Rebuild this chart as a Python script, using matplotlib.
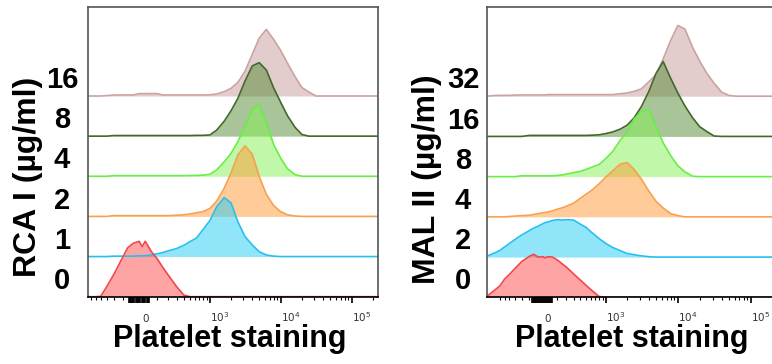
import matplotlib
matplotlib.use("Agg")
import matplotlib.pyplot as plt
from matplotlib.ticker import FixedLocator

plt.rcParams["font.family"] = ["Liberation Sans", "DejaVu Sans"]

# fluorescence values (shared x grid for every histogram)
fluor_bins = [-1100, -800, -700, -600, -500, -400, -300, -200, -150, -100,
              -50, -25, 0, 50, 100, 150, 200, 300, 400, 500,
              630, 800, 1000, 1250, 1600, 2000, 2500, 3150, 4000, 5000,
              6300, 8000, 10000, 12500, 16000, 20000, 25000, 31500, 40000, 50000,
              63000, 80000, 100000, 160000, 250000]

# RCA I panel, counts normalised to row height
rca_doses = ["0", "1", "2", "4", "8", "16"]
rca_0 = [0, 0, 0, 0, 0.01, 0.25, 0.56, 0.98, 1.22, 1.33,
         1.38, 1.25, 1.38, 1.12, 0.94, 0.73, 0.55, 0.25, 0.04, 0,
         0, 0, 0, 0, 0, 0, 0, 0, 0, 0,
         0, 0, 0, 0, 0, 0, 0, 0, 0, 0,
         0, 0, 0, 0, 0]
rca_1 = [0, 0, 0, 0, 0, 0, 0.01, 0.01, 0.01, 0.01,
         0.02, 0.02, 0.02, 0.04, 0.07, 0.1, 0.14, 0.2, 0.28, 0.37,
         0.46, 0.68, 0.9, 1.24, 1.47, 1.34, 0.87, 0.5, 0.29, 0.12,
         0.04, 0.01, 0, 0, 0, 0, 0, 0, 0, 0,
         0, 0, 0, 0, 0]
rca_2 = [0, 0, 0, 0, 0, 0, 0.02, 0.02, 0.02, 0.02,
         0.02, 0.02, 0.02, 0.02, 0.02, 0.02, 0.02, 0.03, 0.04, 0.06,
         0.09, 0.12, 0.2, 0.38, 0.7, 1.08, 1.53, 1.76, 1.55, 1.0,
         0.55, 0.27, 0.12, 0.04, 0.01, 0, 0, 0, 0, 0,
         0, 0, 0, 0, 0]
rca_4 = [0, 0, 0, 0, 0, 0, 0.015, 0.015, 0.015, 0.015,
         0.015, 0.015, 0.015, 0.015, 0.015, 0.015, 0.015, 0.015, 0.015, 0.02,
         0.02, 0.03, 0.05, 0.16, 0.36, 0.57, 0.86, 1.24, 1.68, 1.79,
         1.34, 0.79, 0.46, 0.19, 0.04, 0, 0, 0, 0, 0,
         0, 0, 0, 0, 0]
rca_8 = [0, 0, 0, 0, 0, 0, 0.015, 0.015, 0.015, 0.015,
         0.015, 0.015, 0.015, 0.015, 0.015, 0.015, 0.015, 0.015, 0.015, 0.015,
         0.02, 0.02, 0.03, 0.15, 0.37, 0.63, 0.94, 1.37, 1.75, 1.83,
         1.65, 1.2, 0.85, 0.51, 0.22, 0.04, 0, 0, 0, 0,
         0, 0, 0, 0, 0]
rca_16 = [0, 0, 0, 0, 0, 0.01, 0.025, 0.025, 0.025, 0.025,
          0.06, 0.06, 0.06, 0.06, 0.06, 0.025, 0.025, 0.025, 0.025, 0.025,
          0.025, 0.025, 0.03, 0.05, 0.11, 0.19, 0.34, 0.61, 1.04, 1.44,
          1.66, 1.41, 1.14, 0.82, 0.48, 0.21, 0.1, 0, 0, 0,
          0, 0, 0, 0, 0]

# MAL II panel
mal_doses = ["0", "2", "4", "8", "16", "32"]
mal_0 = [0.02, 0.21, 0.29, 0.45, 0.57, 0.72, 0.89, 1.02, 1.07, 1.0,
         1.01, 0.98, 1.01, 1.0, 0.93, 0.84, 0.76, 0.58, 0.43, 0.3,
         0.16, 0.02, 0, 0, 0, 0, 0, 0, 0, 0,
         0, 0, 0, 0, 0, 0, 0, 0, 0, 0,
         0, 0, 0, 0, 0]
mal_2 = [0.02, 0.12, 0.17, 0.25, 0.34, 0.44, 0.55, 0.66, 0.72, 0.77,
         0.83, 0.86, 0.87, 0.91, 0.93, 0.92, 0.93, 0.92, 0.82, 0.74,
         0.6, 0.46, 0.34, 0.24, 0.16, 0.09, 0.06, 0.03, 0.01, 0,
         0, 0, 0, 0, 0, 0, 0, 0, 0, 0,
         0, 0, 0, 0, 0]
mal_4 = [0, 0, 0, 0, 0.01, 0.02, 0.03, 0.04, 0.06, 0.08,
         0.1, 0.11, 0.12, 0.15, 0.19, 0.22, 0.26, 0.34, 0.46, 0.56,
         0.67, 0.82, 0.99, 1.14, 1.31, 1.35, 1.18, 0.94, 0.64, 0.39,
         0.22, 0.08, 0.03, 0, 0, 0, 0, 0, 0, 0,
         0, 0, 0, 0, 0]
mal_8 = [0, 0, 0, 0, 0, 0, 0.02, 0.02, 0.02, 0.02,
         0.02, 0.02, 0.02, 0.02, 0.03, 0.04, 0.06, 0.1, 0.13, 0.18,
         0.24, 0.3, 0.45, 0.62, 0.9, 1.11, 1.43, 1.62, 1.68, 1.25,
         0.84, 0.52, 0.27, 0.12, 0.01, 0, 0, 0, 0, 0,
         0, 0, 0, 0, 0]
mal_16 = [0, 0, 0, 0, 0, 0, 0, 0.025, 0.025, 0.025,
          0.025, 0.025, 0.025, 0.025, 0.025, 0.025, 0.025, 0.025, 0.025, 0.025,
          0.03, 0.04, 0.07, 0.11, 0.18, 0.28, 0.46, 0.74, 1.12, 1.56,
          1.86, 1.44, 1.08, 0.76, 0.46, 0.24, 0.12, 0.01, 0, 0,
          0, 0, 0, 0, 0]
mal_32 = [0, 0.02, 0.02, 0.02, 0.02, 0.03, 0.03, 0.03, 0.03, 0.03,
          0.03, 0.03, 0.04, 0.04, 0.04, 0.04, 0.04, 0.04, 0.04, 0.04,
          0.04, 0.04, 0.04, 0.04, 0.06, 0.08, 0.12, 0.18, 0.36, 0.53,
          0.93, 1.39, 1.76, 1.67, 1.21, 0.87, 0.57, 0.32, 0.1, 0.02,
          0, 0, 0, 0, 0]

line_colors = ["#f2474a", "#27c0ee", "#f7a050", "#68ee45", "#40692a", "#cba2a2"]
fill_colors = ["#ff4a4a", "#22cdf5", "#ff9a35", "#85f055", "#558a33", "#c89a9a"]

decade_labels = {0: "0", 1e3: "$10^{3}$", 1e4: "$10^{4}$", 1e5: "$10^{5}$"}


def draw_panel(ax, counts, doses, linear_width, xlim, clump, label_pad):
    ax.set_xscale("asinh", linear_width=linear_width)
    for row in reversed(range(len(counts))):
        top = [row + c for c in counts[row]]
        ax.fill_between(fluor_bins, row, top, color=fill_colors[row],
                        alpha=0.5, lw=0)
        ax.plot(fluor_bins, top, color=line_colors[row], lw=1.2)
    ax.set_xlim(*xlim)
    ax.set_ylim(0, 7.21)

    major = sorted(list(decade_labels) + [c for c in clump if c != 0])
    ax.xaxis.set_major_locator(FixedLocator(major))
    ax.set_xticklabels([decade_labels.get(t, "") for t in major])
    minor = ([-700, -600, -500, -400, -300, -200]
             + [100 * k for k in range(1, 10)]
             + [1000 * k for k in range(2, 10)]
             + [10000 * k for k in range(2, 10)] + [200000])
    ax.xaxis.set_minor_locator(FixedLocator(minor))
    ax.tick_params(axis="x", which="major", direction="out", length=4.5,
                   width=1.2, labelsize=7.5, labelcolor="#333333", pad=13.5)
    ax.tick_params(axis="x", which="minor", direction="out", length=2.5, width=0.8)
    for t, lbl in zip(major, ax.get_xticklabels()):
        lbl.set_verticalalignment("baseline")
        lbl.set_family("DejaVu Sans")
        lbl.set_horizontalalignment("center" if t == 0 else "left")

    ax.set_yticks([r + 0.47 for r in range(len(doses))])
    ax.set_yticklabels(doses, fontsize=21, fontweight="bold")
    ax.tick_params(axis="y", length=0, pad=label_pad)
    for lbl in ax.get_yticklabels():
        lbl.set_horizontalalignment("center")

    for side in ("left", "top", "right"):
        ax.spines[side].set_color("#555555")
        ax.spines[side].set_linewidth(1.2)
    ax.spines["bottom"].set_color("black")
    ax.spines["bottom"].set_linewidth(1.2)


fig = plt.figure(figsize=(7.72, 3.64), dpi=100)
ax_rca = fig.add_axes([88 / 772, 67.3 / 364, 290 / 772, 289.4 / 364])
ax_mal = fig.add_axes([487 / 772, 66.7 / 364, 285 / 772, 290 / 364])

draw_panel(ax_rca, [rca_0, rca_1, rca_2, rca_4, rca_8, rca_16], rca_doses,
           250, (-780, 235000), list(range(-140, 40, 10)), 18.7)
draw_panel(ax_mal, [mal_0, mal_2, mal_4, mal_8, mal_16, mal_32], mal_doses,
           328, (-1092, 196000), list(range(-170, 50, 10)), 17.3)
ax_mal.spines["right"].set_visible(False)

fig.text(28 / 772, 1 - 177 / 364, "RCA I (µg/ml)", rotation=90, ha="center",
         va="center", fontsize=23, fontweight="bold")
fig.text(427.5 / 772, 1 - 179.5 / 364, "MAL II (µg/ml)", rotation=90, ha="center",
         va="center", fontsize=23, fontweight="bold")
fig.text(230 / 772, 17.3 / 364, "Platelet staining", ha="center", va="baseline",
         fontsize=22, fontweight="bold")
fig.text(631.7 / 772, 17.3 / 364, "Platelet staining", ha="center", va="baseline",
         fontsize=22, fontweight="bold")

fig.savefig("out.png", dpi=100)
